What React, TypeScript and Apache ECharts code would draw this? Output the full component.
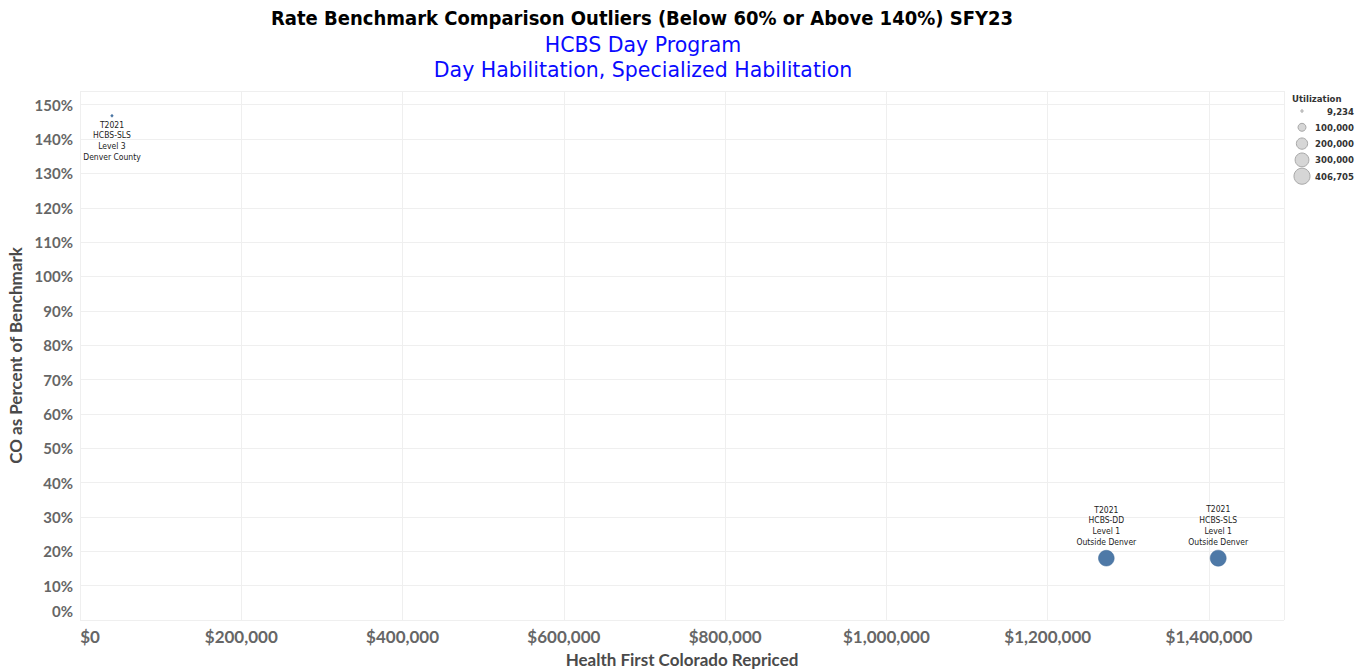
import React, { useEffect, useRef } from "react";
import * as echarts from "echarts";

const codes = ["T2021", "T2021", "T2021"];
const programs = ["HCBS-SLS", "HCBS-DD", "HCBS-SLS"];
const levels = ["Level 3", "Level 1", "Level 1"];
const regions = ["Denver County", "Outside Denver", "Outside Denver"];
const repriced = [39650, 1272700, 1411400];
const pctOfBenchmark = [146.8, 18.0, 18.0];
const utilization = [9234, 392000, 406705];
const labelBelow = [true, false, false];

const legendValues = [9234, 100000, 200000, 300000, 406705];

const titleText = "Rate Benchmark Comparison Outliers (Below 60% or Above 140%) SFY23";
const subtitle1 = "HCBS Day Program";
const subtitle2 = "Day Habilitation, Specialized Habilitation";

const sizeOf = (u: number) => 0.0252 * Math.sqrt(u);
const fmtMoney = (v: number) => "$" + Math.round(v).toLocaleString("en-US");

export default function App() {
  const ref = useRef<HTMLDivElement>(null);
  useEffect(() => {
    document.body.style.margin = "0";
    const chart = echarts.init(ref.current!, null, { renderer: "svg" });
    const titleFont = "'DejaVu Sans Condensed', 'DejaVu Sans', sans-serif";
    const subFont = "'DejaVu Sans', sans-serif";
    const axisFont = "Lato, 'Noto Sans', sans-serif";
    const smallFont = "'DejaVu Sans Condensed', 'DejaVu Sans', sans-serif";

    const data = repriced.map((x, i) => ({
      value: [x, pctOfBenchmark[i], utilization[i]],
      name: [codes[i], programs[i], levels[i], regions[i]].join("\n"),
      label: { position: labelBelow[i] ? "bottom" : "top", distance: labelBelow[i] ? 2 : 3 },
    }));

    const legendGraphics: any[] = [
      {
        type: "text",
        x: 1292,
        y: 98,
        style: { text: "Utilization", font: `bold 9.5px ${smallFont}`, fill: "#333", textVerticalAlign: "middle" },
      },
    ];
    legendValues.forEach((v, i) => {
      const y = 111 + i * 16.3;
      legendGraphics.push({
        type: "circle",
        shape: { cx: 1302, cy: y, r: sizeOf(v) / 2 },
        style: { fill: "#d6d6d6", stroke: "#a8a8a8", lineWidth: 1 },
      });
      legendGraphics.push({
        type: "text",
        x: 1354,
        y,
        style: {
          text: v.toLocaleString("en-US"),
          font: `bold 9.5px ${smallFont}`,
          fill: "#333",
          textAlign: "right",
          textVerticalAlign: "middle",
        },
      });
    });

    chart.setOption({
      animation: false,
      backgroundColor: "#ffffff",
      grid: { left: 80, right: 83, top: 91, bottom: 50, containLabel: false, outerBoundsMode: "none" },
      xAxis: {
        type: "value",
        min: 0,
        max: 1493000,
        interval: 200000,
        name: "Health First Colorado Repriced",
        nameLocation: "middle",
        nameGap: 31,
        nameTextStyle: { fontFamily: axisFont, fontWeight: "bold", fontSize: 17, color: "#4a4a4a" },
        axisLine: { show: false },
        axisTick: { show: false },
        splitLine: { lineStyle: { color: "#efefef", width: 1 } },
        axisLabel: {
          margin: 8,
          showMaxLabel: false,
          formatter: (v: number) => (v % 200000 === 0 ? (v === 0 ? "{z|$0}" : "{n|" + fmtMoney(v) + "}") : ""),
          rich: {
            n: { fontFamily: axisFont, fontWeight: "bold", fontSize: 17, color: "#666" },
            z: { fontFamily: axisFont, fontWeight: "bold", fontSize: 17, color: "#666", padding: [0, 0, 0, 20] },
          },
        },
      },
      yAxis: {
        type: "value",
        min: 0,
        max: 154,
        interval: 10,
        name: "CO as Percent of Benchmark",
        nameLocation: "middle",
        nameGap: 52,
        nameTextStyle: { fontFamily: axisFont, fontWeight: "bold", fontSize: 17, color: "#4a4a4a" },
        axisLine: { show: false },
        axisTick: { show: false },
        splitLine: { lineStyle: { color: "#efefef", width: 1 } },
        axisLabel: {
          margin: 7,
          showMaxLabel: false,
          formatter: (v: number) => (v % 10 === 0 ? (v === 0 ? "{z|0%}" : "{n|" + v + "%}") : ""),
          rich: {
            n: { fontFamily: axisFont, fontWeight: "bold", fontSize: 15, color: "#666" },
            z: { fontFamily: axisFont, fontWeight: "bold", fontSize: 15, color: "#666", padding: [0, 0, 18, 0] },
          },
        },
      },
      series: [
        {
          type: "scatter",
          data,
          symbolSize: (val: number[]) => sizeOf(val[2]),
          itemStyle: { color: "#4E79A7", borderColor: "#3f6a99", borderWidth: 0.5, opacity: 1 },
          label: {
            show: true,
            formatter: (p: any) => p.name,
            fontFamily: smallFont,
            fontSize: 8.5,
            lineHeight: 10.7,
            color: "#222",
            align: "center",
          },
        },
      ],
      graphic: [
        {
          type: "text",
          x: 642,
          y: 18,
          style: {
            text: titleText,
            font: `bold 20px ${titleFont}`,
            fill: "#000",
            textAlign: "center",
            textVerticalAlign: "middle",
          },
        },
        {
          type: "text",
          x: 643,
          y: 45,
          style: {
            text: subtitle1,
            font: `20.5px ${subFont}`,
            fill: "#0a0aff",
            textAlign: "center",
            textVerticalAlign: "middle",
          },
        },
        {
          type: "text",
          x: 643,
          y: 70,
          style: {
            text: subtitle2,
            font: `20.5px ${subFont}`,
            fill: "#0a0aff",
            textAlign: "center",
            textVerticalAlign: "middle",
          },
        },
        ...legendGraphics,
      ],
    });
    return () => chart.dispose();
  }, []);
  return <div ref={ref} style={{ width: 1367, height: 670 }} />;
}
